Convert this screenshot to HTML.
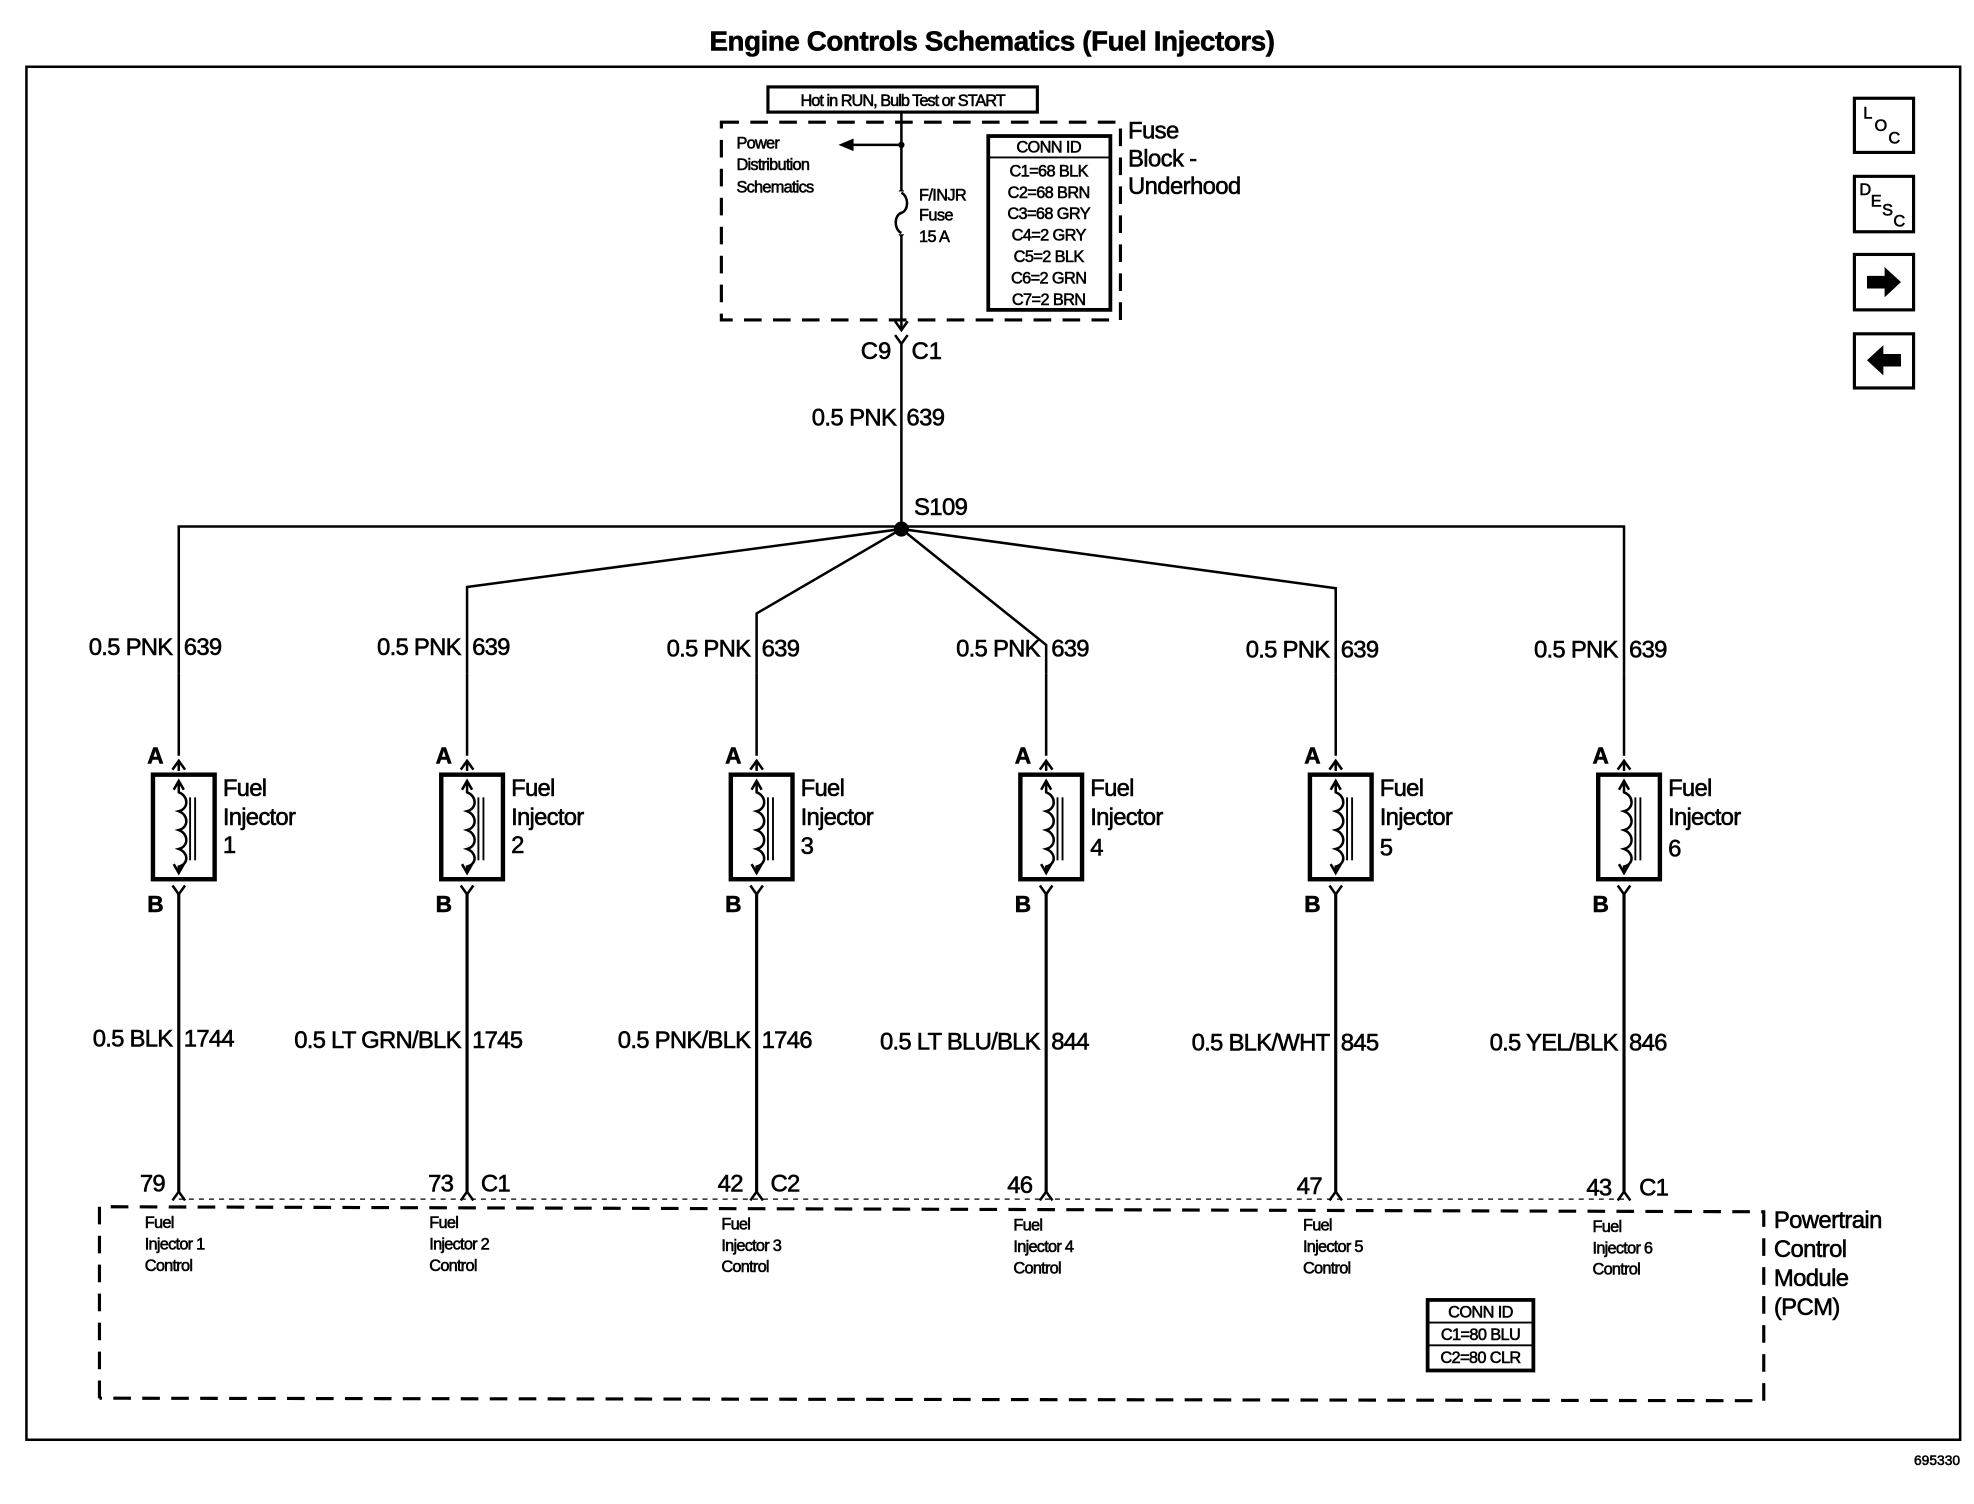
<!DOCTYPE html>
<html><head><meta charset="utf-8"><style>
html,body{margin:0;padding:0;background:#fff}
svg{display:block}
text{font-family:"Liberation Sans",Arial,sans-serif;fill:#000;stroke:#000;stroke-width:0.45}
</style></head><body>
<svg width="1974" height="1504" viewBox="0 0 1568 1194" preserveAspectRatio="none" xmlns="http://www.w3.org/2000/svg">
<defs>
<g id="inj">
  <line x1="0" y1="535" x2="0" y2="600" stroke="#000" stroke-width="2"/>
  <path d="M-5,611 L0,604 L5,611" fill="none" stroke="#000" stroke-width="2"/>
  <line x1="0" y1="604" x2="0" y2="612" stroke="#000" stroke-width="2"/>
  <rect x="-20.5" y="615" width="49" height="83" fill="none" stroke="#000" stroke-width="3.5"/>
  <path d="M0,621 L0,629 C8,632 8,642 0,644 C8,647 8,657 0,659 C8,662 8,672 0,674 C8,677 8,686 0,688 L0,693" fill="none" stroke="#000" stroke-width="2"/>
  <path d="M-4,627 L0,620 L4,627 M-4,686 L0,693 L4,686" fill="none" stroke="#000" stroke-width="2"/>
  <line x1="9" y1="633" x2="9" y2="683" stroke="#000" stroke-width="1.5"/>
  <line x1="13" y1="633" x2="13" y2="683" stroke="#000" stroke-width="1.5"/>
  <path d="M-5,703 L0,710 L5,703" fill="none" stroke="#000" stroke-width="2"/>
  <line x1="0" y1="709" x2="0" y2="946" stroke="#000" stroke-width="2.5"/>
  <path d="M-5,953 L0,946 L5,953" fill="none" stroke="#000" stroke-width="2"/>
  <text x="-25" y="606" font-size="18" font-weight="bold">A</text>
  <text x="-25" y="724" font-size="18" font-weight="bold">B</text>
  <text x="35" y="632" font-size="19" letter-spacing="-0.6">Fuel</text>
  <text x="35" y="655" font-size="19" letter-spacing="-0.6">Injector</text>
</g>
</defs>
<text x="788" y="40" font-size="22" font-weight="bold" text-anchor="middle" letter-spacing="-0.3">Engine Controls Schematics (Fuel Injectors)</text>
<rect x="21" y="53" width="1536" height="1090" fill="none" stroke="#000" stroke-width="2"/>

<rect x="573" y="97" width="317" height="157" fill="none" stroke="#000" stroke-width="2.5" stroke-dasharray="14,9"/>
<line x1="716" y1="90" x2="716" y2="262" stroke="#000" stroke-width="2"/>
<rect x="610" y="69" width="214" height="20" fill="#fff" stroke="#000" stroke-width="2.5"/>
<text x="717" y="84" font-size="13" text-anchor="middle" letter-spacing="-0.8">Hot in RUN, Bulb Test or START</text>
<path d="M711,255 L716,262 L721,255" fill="none" stroke="#000" stroke-width="2"/>
<line x1="672" y1="115" x2="716" y2="115" stroke="#000" stroke-width="2"/>
<path d="M666,115 L678,110 L678,120 Z" fill="#000"/>
<circle cx="716" cy="115" r="2.5"/>
<circle cx="716" cy="153" r="2.5"/><circle cx="716" cy="185" r="2.5"/>
<rect x="712" y="152" width="8" height="34" fill="#fff"/>
<path d="M716,153 C722,156 722,167 716,169 C710,171 710,182 716,185" fill="none" stroke="#000" stroke-width="2"/>
<text x="585" y="118" font-size="13" letter-spacing="-0.6">Power</text>
<text x="585" y="135" font-size="13" letter-spacing="-0.6">Distribution</text>
<text x="585" y="153" font-size="13" letter-spacing="-0.6">Schematics</text>
<text x="730" y="159" font-size="13" letter-spacing="-0.5">F/INJR</text>
<text x="730" y="175" font-size="13" letter-spacing="-0.5">Fuse</text>
<text x="730" y="192" font-size="13" letter-spacing="-0.5">15 A</text>
<rect x="785" y="108" width="97" height="138" fill="none" stroke="#000" stroke-width="3"/>
<line x1="785" y1="125" x2="882" y2="125" stroke="#000" stroke-width="1.5"/>
<g font-size="13" text-anchor="middle" letter-spacing="-0.5">
<text x="833" y="121">CONN ID</text>
<text x="833" y="140">C1=68 BLK</text>
<text x="833" y="157">C2=68 BRN</text>
<text x="833" y="174">C3=68 GRY</text>
<text x="833" y="191">C4=2 GRY</text>
<text x="833" y="208">C5=2 BLK</text>
<text x="833" y="225">C6=2 GRN</text>
<text x="833" y="242">C7=2 BRN</text>
</g>
<g font-size="19" letter-spacing="-0.5">
<text x="896" y="110">Fuse</text>
<text x="896" y="132">Block -</text>
<text x="896" y="154">Underhood</text>
</g>
<path d="M711,266 L716,273 L721,266" fill="none" stroke="#000" stroke-width="2"/>
<line x1="716" y1="272" x2="716" y2="420" stroke="#000" stroke-width="2"/>
<text x="708" y="285" font-size="19" text-anchor="end">C9</text>
<text x="724" y="285" font-size="19">C1</text>
<text x="712" y="338" font-size="19" text-anchor="end" letter-spacing="-0.5">0.5 PNK</text>
<text x="720" y="338" font-size="19" letter-spacing="-0.5">639</text>
<text x="726" y="409" font-size="19" letter-spacing="-0.5">S109</text>

<g fill="none" stroke="#000" stroke-width="2">
<path d="M142,535 L142,418 L1290,418 L1290,535"/>
<path d="M716,420 L371,466 L371,535"/>
<path d="M716,420 L601,487 L601,535"/>
<path d="M716,420 L831,512 L831,535"/>
<path d="M716,420 L1061,467 L1061,535"/>
</g>
<circle cx="716" cy="420" r="6"/>

<use href="#inj" x="142" y="0"/>
<use href="#inj" x="371" y="0"/>
<use href="#inj" x="601" y="0"/>
<use href="#inj" x="831" y="0"/>
<use href="#inj" x="1061" y="0"/>
<use href="#inj" x="1290" y="0"/>
<g font-size="19">
<text x="177" y="677">1</text><text x="406" y="677">2</text><text x="636" y="678">3</text>
<text x="866" y="679">4</text><text x="1096" y="679">5</text><text x="1325" y="680">6</text>
</g>

<g font-size="19" letter-spacing="-0.6">
<text x="137" y="520" text-anchor="end">0.5 PNK</text><text x="146" y="520">639</text>
<text x="366" y="520" text-anchor="end">0.5 PNK</text><text x="375" y="520">639</text>
<text x="596" y="521" text-anchor="end">0.5 PNK</text><text x="605" y="521">639</text>
<text x="826" y="521" text-anchor="end">0.5 PNK</text><text x="835" y="521">639</text>
<text x="1056" y="522" text-anchor="end">0.5 PNK</text><text x="1065" y="522">639</text>
<text x="1285" y="522" text-anchor="end">0.5 PNK</text><text x="1294" y="522">639</text>

<text x="137" y="831" text-anchor="end">0.5 BLK</text><text x="146" y="831">1744</text>
<text x="366" y="832" text-anchor="end">0.5 LT GRN/BLK</text><text x="375" y="832">1745</text>
<text x="596" y="832" text-anchor="end">0.5 PNK/BLK</text><text x="605" y="832">1746</text>
<text x="826" y="833" text-anchor="end">0.5 LT BLU/BLK</text><text x="835" y="833">844</text>
<text x="1056" y="834" text-anchor="end">0.5 BLK/WHT</text><text x="1065" y="834">845</text>
<text x="1285" y="834" text-anchor="end">0.5 YEL/BLK</text><text x="1294" y="834">846</text>

<text x="131" y="946" text-anchor="end">79</text>
<text x="360" y="946" text-anchor="end">73</text><text x="382" y="946">C1</text>
<text x="590" y="946" text-anchor="end">42</text><text x="612" y="946">C2</text>
<text x="820" y="947" text-anchor="end">46</text>
<text x="1050" y="948" text-anchor="end">47</text>
<text x="1280" y="949" text-anchor="end">43</text><text x="1302" y="949">C1</text>
</g>

<path d="M142,952 L1290,952" fill="none" stroke="#000" stroke-width="1" stroke-dasharray="4,4"/>
<path d="M79,1110 L79,958 L1401,962 L1401,1112 L79,1110" fill="none" stroke="#000" stroke-width="2.5" stroke-dasharray="14,9"/>
<g font-size="13" letter-spacing="-0.6">
<text x="115" y="975">Fuel</text><text x="115" y="992">Injector 1</text><text x="115" y="1009">Control</text>
<text x="341" y="975">Fuel</text><text x="341" y="992">Injector 2</text><text x="341" y="1009">Control</text>
<text x="573" y="976">Fuel</text><text x="573" y="993">Injector 3</text><text x="573" y="1010">Control</text>
<text x="805" y="977">Fuel</text><text x="805" y="994">Injector 4</text><text x="805" y="1011">Control</text>
<text x="1035" y="977">Fuel</text><text x="1035" y="994">Injector 5</text><text x="1035" y="1011">Control</text>
<text x="1265" y="978">Fuel</text><text x="1265" y="995">Injector 6</text><text x="1265" y="1012">Control</text>
</g>
<g font-size="19" letter-spacing="-0.5">
<text x="1409" y="975">Powertrain</text>
<text x="1409" y="998">Control</text>
<text x="1409" y="1021">Module</text>
<text x="1409" y="1044">(PCM)</text>
</g>
<rect x="1134" y="1032" width="84" height="56" fill="none" stroke="#000" stroke-width="3"/>
<line x1="1134" y1="1050" x2="1218" y2="1050" stroke="#000" stroke-width="1.5"/>
<line x1="1134" y1="1068" x2="1218" y2="1068" stroke="#000" stroke-width="1.5"/>
<g font-size="13" text-anchor="middle" letter-spacing="-0.5">
<text x="1176" y="1046">CONN ID</text>
<text x="1176" y="1064">C1=80 BLU</text>
<text x="1176" y="1082">C2=80 CLR</text>
</g>

<g fill="none" stroke="#000" stroke-width="2.5">
<rect x="1473" y="78" width="47" height="43"/>
<rect x="1473" y="140" width="47" height="44"/>
<rect x="1473" y="202" width="47" height="44"/>
<rect x="1473" y="265" width="47" height="43"/>
</g>
<text x="1480" y="94" font-size="13">L</text><text x="1489" y="104" font-size="13">O</text><text x="1500" y="114" font-size="13">C</text>
<text x="1477" y="155" font-size="13">D</text><text x="1486" y="164" font-size="13">E</text><text x="1495" y="171" font-size="13">S</text><text x="1504" y="180" font-size="13">C</text>
<path d="M1483,219 L1497,219 L1497,212 L1510,224 L1497,236 L1497,229 L1483,229 Z" fill="#000"/>
<path d="M1510,281 L1496,281 L1496,274 L1483,286 L1496,298 L1496,291 L1510,291 Z" fill="#000"/>

<text x="1557" y="1163" font-size="11" text-anchor="end">695330</text>
</svg>
</body></html>
